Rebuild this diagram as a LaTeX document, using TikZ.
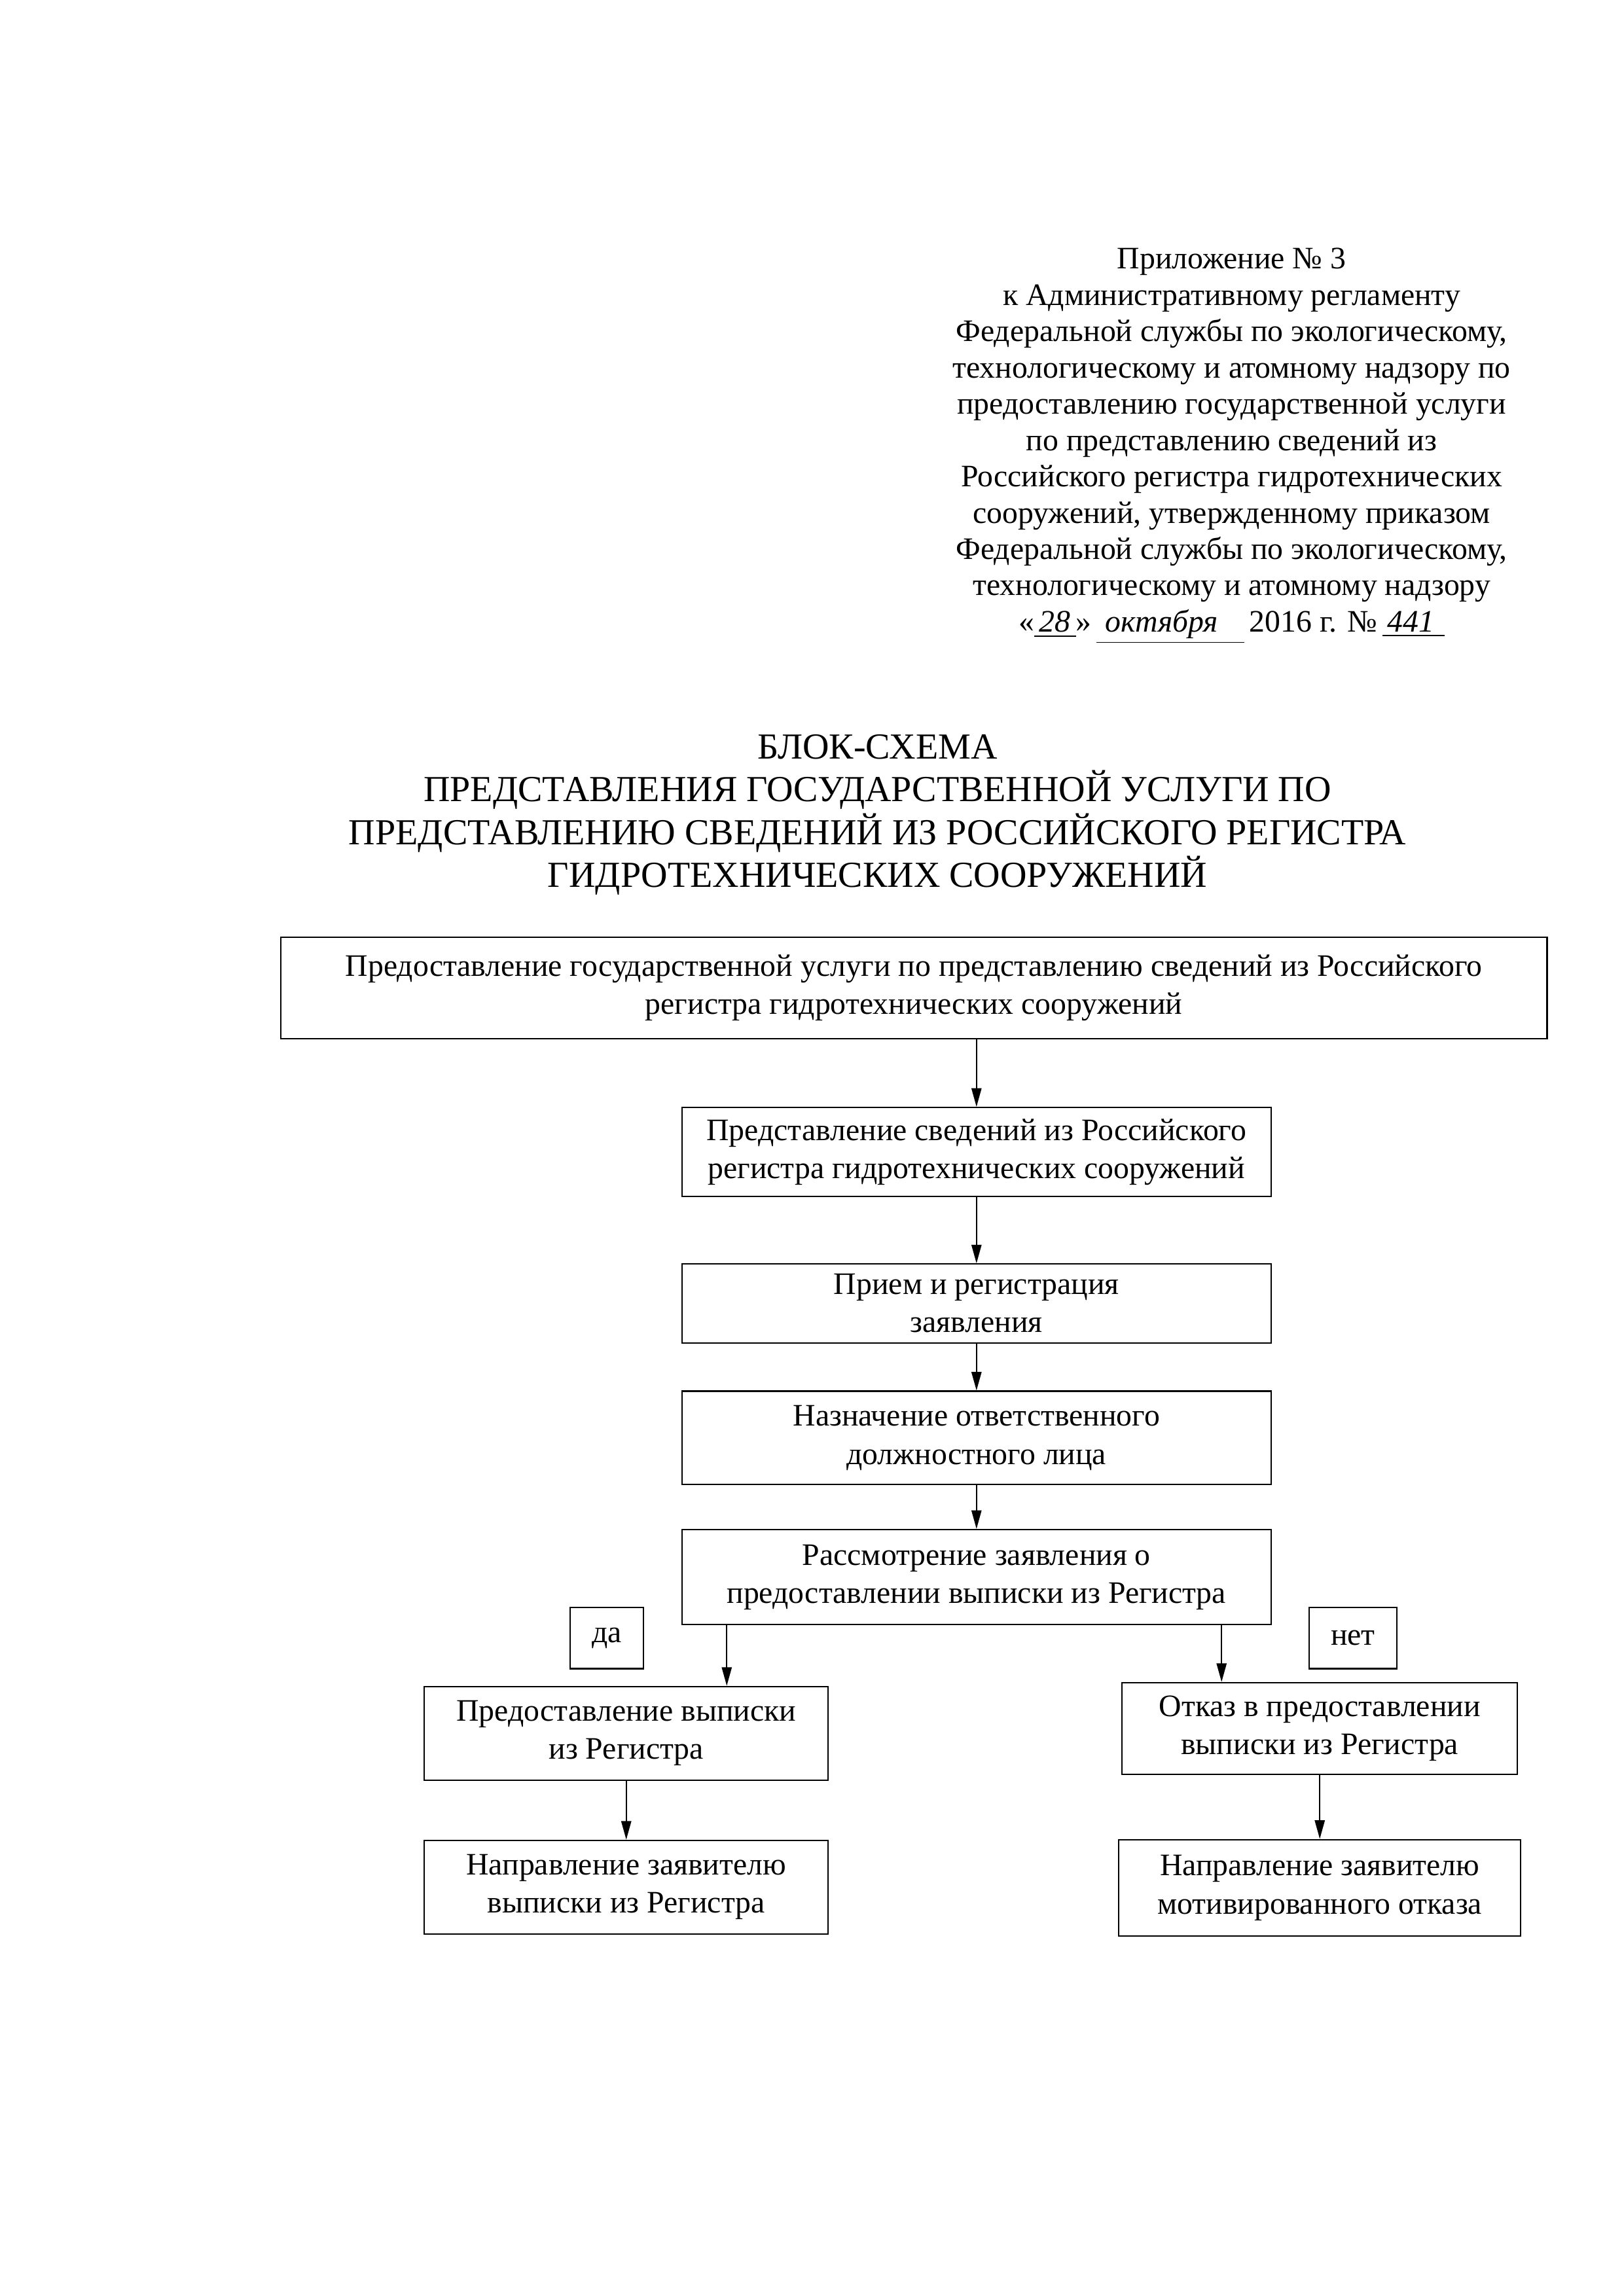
\documentclass[tikz,border=0pt]{standalone}
\usepackage{fontspec}
\setmainfont{Liberation Serif}
\usetikzlibrary{positioning, arrows.meta}

\begin{document}
\begin{tikzpicture}
    [
        node distance=20mm and 45mm, on grid, auto,
        blk_box/.style={rectangle, draw=black, line width=0.5pt, align=center, inner sep=0pt, font=\fontsize{11.5}{14}\selectfont},
        ans_box/.style={blk_box, minimum height=7.9mm},
        flow_arrow/.style={-{Triangle[length=2.4mm, width=1.3mm]}, line width=0.4pt},
    ]
        \useasboundingbox (0,0) rectangle (210mm,-297mm);
        \node[align=center, inner sep=0pt, font=\fontsize{11.5}{13.36}\selectfont] (annex) at (159.3mm,-57.7mm)
            {Приложение № 3\\
             к Административному регламенту\\
             Федеральной службы по экологическому,\\
             технологическому и атомному надзору по\\
             предоставлению государственной услуги\\
             по представлению сведений из\\
             Российского регистра гидротехнических\\
             сооружений, утвержденному приказом\\
             Федеральной службы по экологическому,\\
             технологическому и атомному надзору\\
             «\underline{\textit{\,28\,}}»\,\underline{\textit{\;октября\;\;\;}}\,2016 г. №\,\underline{\textit{\,441\,\,}}} ;
        \node[align=center, inner sep=0pt, font=\fontsize{13.5}{15.7}\selectfont] (title) at (113.5mm,-105.4mm)
            {БЛОК-СХЕМА\\
             ПРЕДСТАВЛЕНИЯ ГОСУДАРСТВЕННОЙ УСЛУГИ ПО\\
             ПРЕДСТАВЛЕНИЮ СВЕДЕНИЙ ИЗ РОССИЙСКОГО РЕГИСТРА\\
             ГИДРОТЕХНИЧЕСКИХ СООРУЖЕНИЙ} ;
        % main chain
        \node[blk_box, minimum width=163.8mm, minimum height=13.1mm] (service) at (118.2mm,-127.8mm)
            {Предоставление государственной услуги по представлению сведений из Российского\\ регистра гидротехнических сооружений} ;
        \node[blk_box, minimum width=76.2mm, minimum height=11.5mm] (info) [below right = 21.2mm and 8.1mm of service]
            {Представление сведений из Российского\\ регистра гидротехнических сооружений} ;
        \node[blk_box, minimum width=76.2mm, minimum height=10.2mm] (intake) [below = 19.6mm of info]
            {Прием и регистрация\\ заявления} ;
        \node[blk_box, minimum width=76.2mm, minimum height=12.1mm] (assign) [below = 17.4mm of intake]
            {Назначение ответственного\\ должностного лица} ;
        \node[blk_box, minimum width=76.2mm, minimum height=12.3mm] (review) [below = 18.0mm of assign]
            {Рассмотрение заявления о\\ предоставлении выписки из Регистра} ;
        % answers
        \node[ans_box, minimum width=9.5mm] (yes) [below left = 7.9mm and 47.8mm of review] {да} ;
        \node[ans_box, minimum width=11.4mm] (no) [below right = 7.9mm and 48.7mm of review] {нет} ;
        \node[blk_box, minimum width=52.2mm, minimum height=12.1mm] (grant) [below left = 20.2mm and 45.3mm of review]
            {Предоставление выписки\\ из Регистра} ;
        \node[blk_box, minimum width=51.1mm, minimum height=11.9mm] (refuse) [below right = 19.6mm and 44.4mm of review]
            {Отказ в предоставлении\\ выписки из Регистра} ;
        \node[blk_box, minimum width=52.2mm, minimum height=12.1mm] (send_grant) [below = 19.9mm of grant]
            {Направление заявителю\\ выписки из Регистра} ;
        \node[blk_box, minimum width=52.0mm, minimum height=12.5mm] (send_refuse) [below = 20.6mm of refuse]
            {Направление заявителю\\ мотивированного отказа} ;
        \coordinate (yes_drop) at (94.0mm,-210mm) ;
        \coordinate (no_drop) at (158.0mm,-210mm) ;
        \draw[flow_arrow] (service.south -| info.north) -- (info.north) ;
        \draw[flow_arrow] (info) -- (intake) ;
        \draw[flow_arrow] (intake) -- (assign) ;
        \draw[flow_arrow] (assign) -- (review) ;
        \draw[flow_arrow] (review.south -| yes_drop) -- (grant.north -| yes_drop) ;
        \draw[flow_arrow] (review.south -| no_drop) -- (refuse.north -| no_drop) ;
        \draw[flow_arrow] (grant) -- (send_grant) ;
        \draw[flow_arrow] (refuse) -- (send_refuse) ;
\end{tikzpicture}
\end{document}
